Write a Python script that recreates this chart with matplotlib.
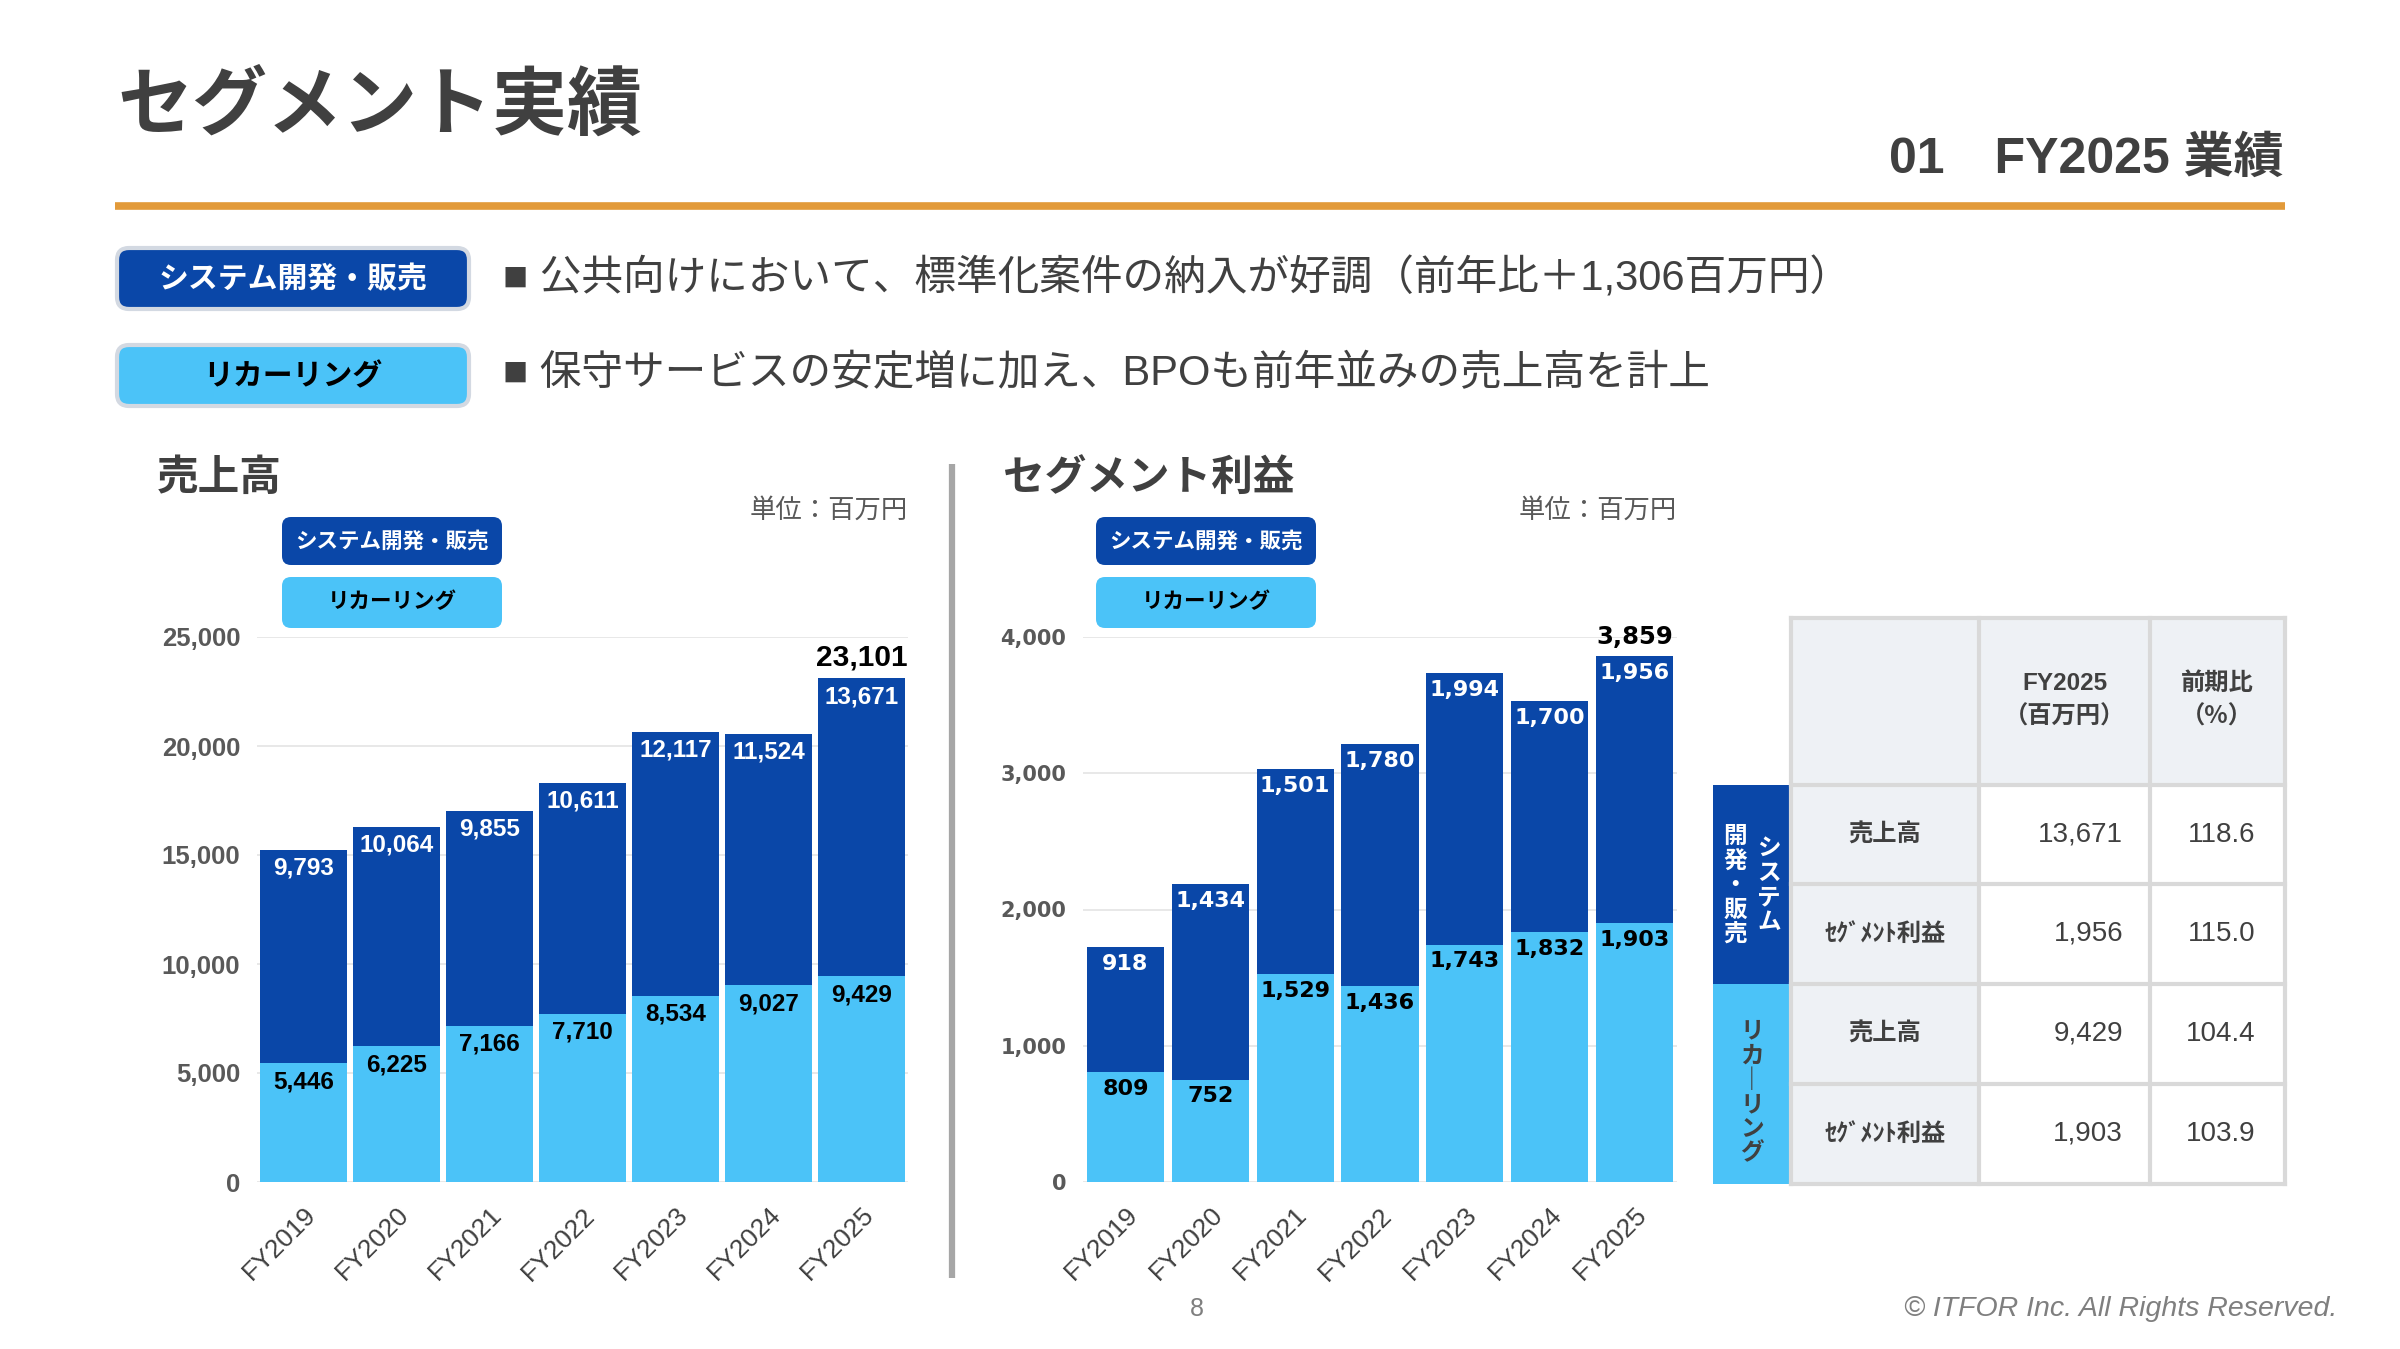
import matplotlib.pyplot as plt
from matplotlib.patches import FancyBboxPatch, Rectangle
from matplotlib.transforms import ScaledTranslation
import numpy as np

# ---- data ----
years = ['FY2019', 'FY2020', 'FY2021', 'FY2022', 'FY2023', 'FY2024', 'FY2025']
sales_recurring = [5446, 6225, 7166, 7710, 8534, 9027, 9429]
sales_system = [9793, 10064, 9855, 10611, 12117, 11524, 13671]
sales_total_last = 23101  # reported total for FY2025
profit_recurring = [809, 752, 1529, 1436, 1743, 1832, 1903]
profit_system = [918, 1434, 1501, 1780, 1994, 1700, 1956]

table_segments = ['システム\n開発・販売', 'リカーリング']
table_items = ['売上高', 'ｾｸﾞﾒﾝﾄ利益', '売上高', 'ｾｸﾞﾒﾝﾄ利益']
table_values = [13671, 1956, 9429, 1903]
table_ratio = [118.6, 115.0, 104.4, 103.9]

bullets = ['■ 公共向けにおいて、標準化案件の納入が好調（前年比＋1,306百万円）',
           '■ 保守サービスの安定増に加え、BPOも前年並みの売上高を計上']

DARK = '#0A47A8'
LIGHT = '#4BC3F8'
TXT = '#404040'
GRAY = '#595959'
JP = ['Noto Sans CJK JP', 'DejaVu Sans']
LAT = ['Liberation Sans', 'Noto Sans CJK JP']

W, H = 2400, 1349
fig = plt.figure(figsize=(24, 13.49), dpi=100)
fig.patch.set_facecolor('white')

# pixel canvas for the slide decoration
cv = fig.add_axes([0, 0, 1, 1])
cv.set_xlim(0, W)
cv.set_ylim(H, 0)
cv.axis('off')


def box(x, y, w, h, fc, ec='none', lw=0, r=12):
    p = FancyBboxPatch((x, y), w, h, boxstyle=f'round,pad=0,rounding_size={r}',
                       fc=fc, ec=ec, lw=lw)
    cv.add_patch(p)


# header
cv.text(117, 107, 'セグメント実績', family=JP, fontsize=54, fontweight='bold',
        color=TXT, va='center', ha='left')
cv.text(2284, 160, '01　FY2025 業績', family=LAT, fontsize=36, fontweight='bold',
        color=TXT, va='center', ha='right')
cv.plot([115, 2285], [206, 206], color='#E29A3A', lw=5.5, solid_capstyle='butt')

# top legend + bullets
box(117, 248, 352, 61, DARK, ec='#D3D9E2', lw=3)
cv.text(293, 279, 'システム開発・販売', family=JP, fontsize=21.5, fontweight='bold',
        color='white', va='center', ha='center')
box(117, 345, 352, 61, LIGHT, ec='#D3D9E2', lw=3)
cv.text(293, 376, 'リカーリング', family=JP, fontsize=21.5, fontweight='bold',
        color='black', va='center', ha='center')
for i, b in enumerate(bullets):
    cv.text(503, 279 + i * 95, b, family=LAT, fontsize=30, color=TXT,
            va='center', ha='left')

# chart headings
cv.text(157, 478, '売上高', family=JP, fontsize=30, fontweight='bold', color=TXT,
        va='center', ha='left')
cv.text(908, 510, '単位：百万円', family=JP, fontsize=19, color=GRAY,
        va='center', ha='right')
cv.text(1003, 478, 'セグメント利益', family=JP, fontsize=30, fontweight='bold',
        color=TXT, va='center', ha='left')
cv.text(1677, 510, '単位：百万円', family=JP, fontsize=19, color=GRAY,
        va='center', ha='right')
for x0 in (282, 1096):
    box(x0, 517, 220, 48, DARK, r=9)
    cv.text(x0 + 110, 541, 'システム開発・販売', family=JP, fontsize=15.5,
            fontweight='bold', color='white', va='center', ha='center')
    box(x0, 577, 220, 51, LIGHT, r=9)
    cv.text(x0 + 110, 602, 'リカーリング', family=JP, fontsize=15.5,
            fontweight='bold', color='black', va='center', ha='center')

# separator
cv.plot([952, 952], [464, 1278], color='#A6A6A6', lw=4.5, solid_capstyle='butt')

# footer
cv.text(1197, 1309, '8', family=LAT, fontsize=18, color='#7F7F7F',
        va='center', ha='center')
cv.text(2337, 1309, '© ITFOR Inc. All Rights Reserved.', family=LAT, fontsize=20.5,
        style='italic', color='#7F7F7F', va='center', ha='right')


def draw_chart(left_px, right_px, rec, sysv, ymax, step, total, numfam, numsize,
               totsize, ytsize, width):
    ax = fig.add_axes([left_px / W, (H - 1182) / H, (right_px - left_px) / W,
                       (1182 - 637) / H])
    ax.set_facecolor('none')
    x = np.arange(len(years))
    rec = np.array(rec)
    sysv = np.array(sysv)
    ax.bar(x, rec, width=width, color=LIGHT, zorder=2)
    ax.bar(x, sysv, bottom=rec, width=width, color=DARK, zorder=2)
    for i in range(len(x)):
        ax.annotate(f'{sysv[i]:,}', (x[i], rec[i] + sysv[i]), xytext=(0, -5),
                    textcoords='offset points', ha='center', va='top',
                    family=numfam, fontsize=numsize, fontweight='bold',
                    color='white', zorder=3)
        ax.annotate(f'{rec[i]:,}', (x[i], rec[i]), xytext=(0, -5),
                    textcoords='offset points', ha='center', va='top',
                    family=numfam, fontsize=numsize, fontweight='bold',
                    color='black', zorder=3)
    ax.annotate(f'{total:,}', (x[-1], rec[-1] + sysv[-1]), xytext=(0, 5),
                textcoords='offset points', ha='center', va='bottom',
                family=numfam, fontsize=totsize, fontweight='bold',
                color='black', zorder=3)
    ax.set_xlim(-0.5, len(x) - 0.5)
    ax.set_ylim(0, ymax)
    ticks = np.arange(0, ymax + 1, step)
    ax.set_yticks(ticks)
    ax.set_yticklabels([f'{t:,}' for t in ticks], family=numfam,
                       fontsize=ytsize, fontweight='bold', color=GRAY)
    ax.grid(axis='y', color='#E6E6E6', lw=1.3, zorder=0)
    ax.set_xticks(x)
    ax.set_xticklabels(years, rotation=45, ha='right', va='top',
                       rotation_mode='anchor', family=LAT, fontsize=19,
                       color=TXT)
    off = ScaledTranslation(0.1, 0, fig.dpi_scale_trans)
    for lab in ax.get_xticklabels():
        lab.set_transform(lab.get_transform() + off)
    ax.tick_params(axis='x', length=0, pad=15)
    ax.tick_params(axis='y', length=0, pad=12)
    for s in ax.spines.values():
        s.set_visible(False)
    return ax


draw_chart(257, 908, sales_recurring, sales_system, 25000, 5000,
           sales_total_last, LAT, 17.5, 21.5, 18.5, 0.93)
draw_chart(1083, 1677, profit_recurring, profit_system, 4000, 1000,
           profit_recurring[-1] + profit_system[-1], ['DejaVu Sans'], 16,
           17.5, 15, 0.91)

# table
cx = [1791, 1979, 2150, 2285]
ry = [618, 785, 884, 984, 1084, 1184]
cv.add_patch(Rectangle((cx[0], ry[0]), cx[3] - cx[0], ry[1] - ry[0],
                       fc='#EEF1F5', ec='none'))
for r in range(4):
    cv.add_patch(Rectangle((cx[0], ry[r + 1]), cx[1] - cx[0], ry[r + 2] - ry[r + 1],
                           fc='#EEF1F5', ec='none'))
for xv in cx:
    cv.plot([xv, xv], [ry[0], ry[-1]], color='#D9D9D9', lw=3)
for yv in ry:
    cv.plot([cx[0], cx[-1]], [yv, yv], color='#D9D9D9', lw=3)
cv.add_patch(Rectangle((1713, ry[1]), cx[0] - 1713, ry[3] - ry[1], fc=DARK, ec='none'))
cv.add_patch(Rectangle((1713, ry[3]), cx[0] - 1713, ry[5] - ry[3], fc=LIGHT, ec='none'))

cv.text(2065, 683, 'FY2025', family=LAT, fontsize=17.5, fontweight='bold',
        color=TXT, ha='center', va='center')
cv.text(2065, 717, '（百万円）', family=JP, fontsize=17.5, fontweight='bold',
        color=TXT, ha='center', va='center')
cv.text(2217, 683, '前期比', family=JP, fontsize=17.5, fontweight='bold',
        color=TXT, ha='center', va='center')
cv.text(2217, 717, '（%）', family=JP, fontsize=17.5, fontweight='bold',
        color=TXT, ha='center', va='center')
for r in range(4):
    yc = (ry[r + 1] + ry[r + 2]) / 2
    cv.text(1885, yc, table_items[r], family=JP, fontsize=17.5, fontweight='bold',
            color=TXT, ha='center', va='center')
    cv.text(2123, yc, f'{table_values[r]:,}', family=LAT, fontsize=20,
            color=TXT, ha='right', va='center')
    cv.text(2255, yc, f'{table_ratio[r]:.1f}', family=LAT, fontsize=20,
            color=TXT, ha='right', va='center')


def vtext(xc, ycenter, s, color, step=24.5):
    chars = ['｜' if c == 'ー' else c for c in s]
    y0 = ycenter - step * (len(chars) - 1) / 2
    for k, c in enumerate(chars):
        cv.text(xc, y0 + k * step, c, family=JP, fontsize=17, fontweight='bold',
                color=color, ha='center', va='center')


seg_sys_right, seg_sys_left = table_segments[0].split('\n')
vtext(1769, 885, seg_sys_right, 'white')
vtext(1735, 885, seg_sys_left, 'white')
vtext(1752, 1092, table_segments[1], TXT)

fig.savefig('out.png', dpi=100, facecolor='white')
